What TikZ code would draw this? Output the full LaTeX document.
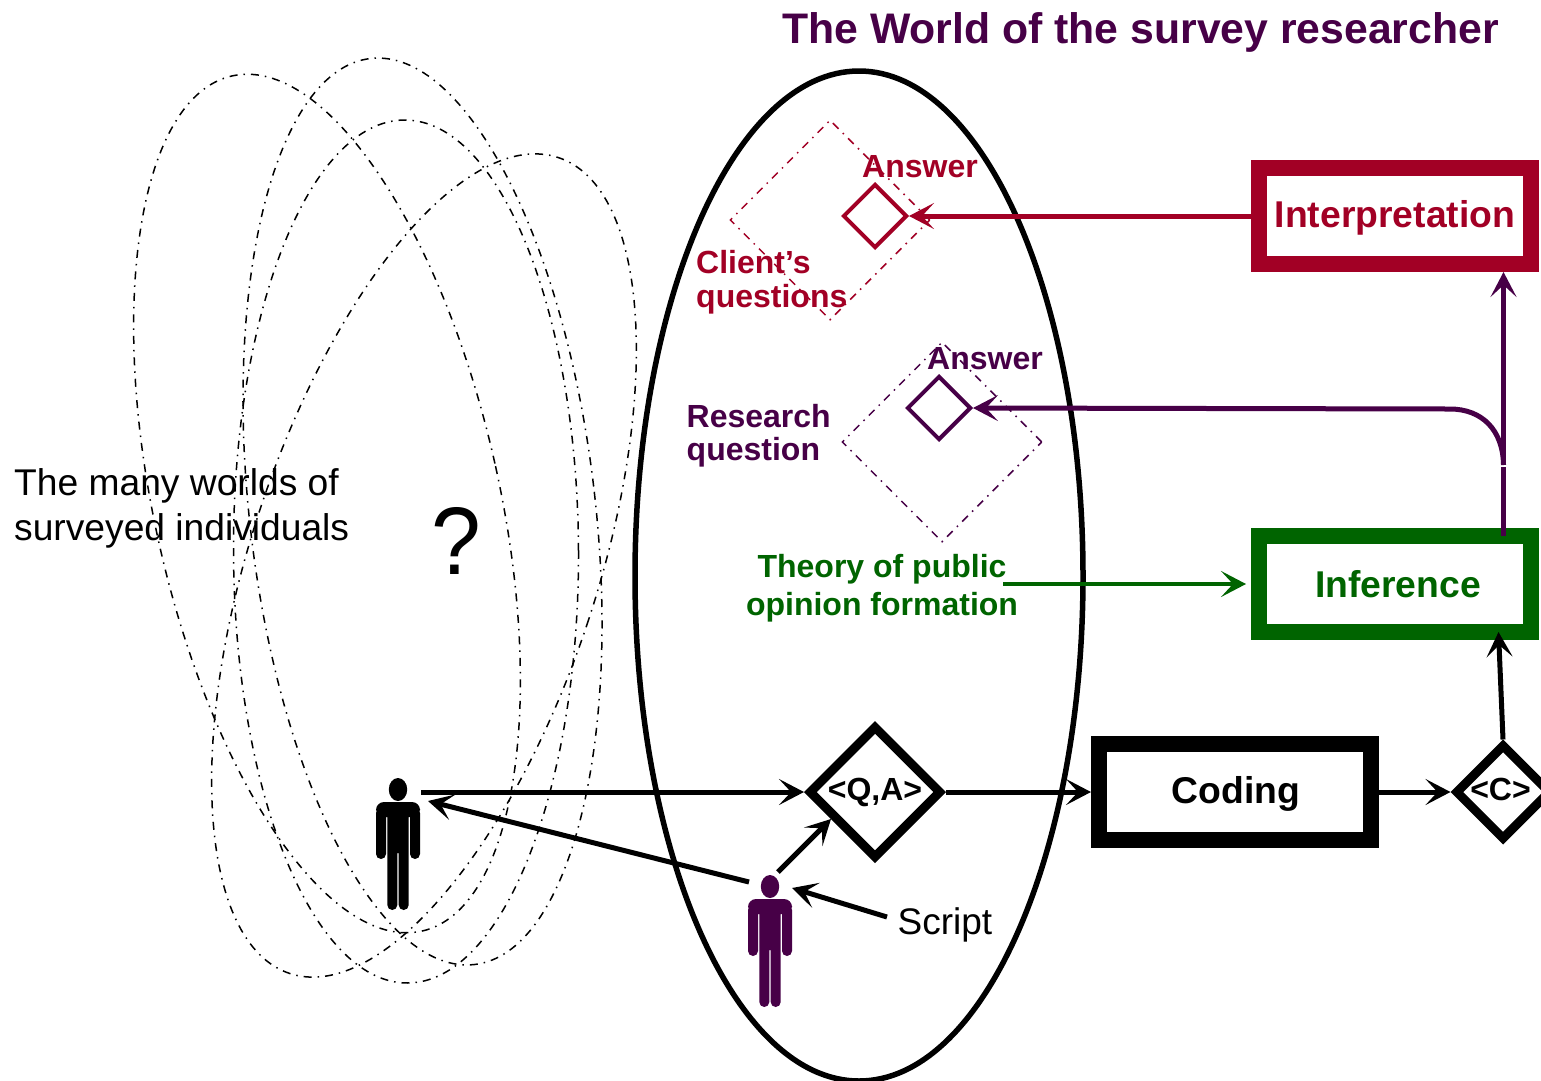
\documentclass[tikz,border=0pt]{standalone}
\usepackage{fontspec}
\setmainfont{Liberation Sans}
\usetikzlibrary{shapes.geometric,arrows.meta,calc}
\definecolor{plum}{HTML}{470047}
\definecolor{crim}{HTML}{A20025}
\definecolor{leaf}{HTML}{006400}
\tikzset{
  worldline/.style={line width=1.5pt,dash pattern=on 8pt off 6pt on 1.5pt off 6pt},
  conn/.style={line width=5pt,-{Stealth[length=25pt,width=26pt,inset=12pt]}},
  plainline/.style={line width=5pt},
  framebox/.style={rectangle,draw,line width=16pt,minimum width=272pt,minimum height=96pt,inner sep=0pt,font=\fontsize{37.3}{40}\bfseries\selectfont},
  bigdiam/.style={diamond,draw,aspect=1,line width=9pt,inner sep=0pt,font=\fontsize{32}{34}\bfseries\selectfont},
  smalldiam/.style={diamond,draw,aspect=1,line width=4pt,inner sep=0pt,minimum width=64pt,minimum height=64pt},
  clouddiam/.style={diamond,draw,aspect=1,line width=1.5pt,inner sep=0pt,minimum width=200pt,minimum height=200pt,dash pattern=on 8pt off 6pt on 1.5pt off 6pt},
  lab/.style={inner sep=0pt,font=\fontsize{32}{33}\bfseries\selectfont},
  plain/.style={inner sep=0pt,font=\fontsize{37.2}{45}\selectfont},
  person/.pic={
    \fill[pic actions] (0,11.5) ellipse [x radius=9.2,y radius=11.5]
      [rounded corners=8pt] (-22,24) rectangle (22,39)
      [rounded corners=5pt] (-22,30) rectangle (-12,81)
      (12,30) rectangle (22,81)
      (-10.7,70) rectangle (-0.7,132)
      (0.7,70) rectangle (10.7,132)
      [sharp corners] (-10.7,30) rectangle (10.7,75);
  }
}
\begin{document}
\begin{tikzpicture}[x=1pt,y=-1pt]
\useasboundingbox (0,0) rectangle (1541,1080);
\clip (0,0) rectangle (1541,1080);
\fill[white] (0,0) rectangle (1541,1080);

% many worlds
\draw[worldline,rotate around={12.5:(327,503.5)}] (327,503.5) ellipse [x radius=172.6,y radius=438];
\draw[worldline,rotate around={6.55:(422.5,511.5)}] (422.5,511.5) ellipse [x radius=172.9,y radius=456];
\draw[worldline,rotate around={0.2:(406,551.5)}] (406,551.5) ellipse [x radius=172.5,y radius=431.5];
\draw[worldline,rotate around={-18.2:(424,565.5)}] (424,565.5) ellipse [x radius=173.3,y radius=429.5];

% researcher's world
\draw[line width=5.5pt] (859,576) ellipse [x radius=224,y radius=505];

\node[inner sep=0pt,anchor=base west,text=plum,font=\fontsize{42.75}{46}\bfseries\selectfont] (title) at (782,43) {The World of the survey researcher};
\node[plain,anchor=base west,align=left] (many) at (14,540) {The many worlds of\\surveyed individuals};
\node[inner sep=0pt,anchor=base,font=\fontsize{96}{100}\selectfont] (quest) at (456.5,574) {\scalebox{0.93}[1]{?}};

% diamonds
\node[clouddiam,draw=crim] (clientD) at (830,220) {};
\node[smalldiam,draw=crim] (ansR) at (875,216) {};
\node[lab,anchor=base west,text=crim] (ansRt) at (862,177) {Answer};
\node[lab,anchor=base west,align=left,text=crim,font=\fontsize{32}{34}\bfseries\selectfont] (clientT) at (696,307) {Client’s\\questions};

\node[clouddiam,draw=plum] (resD) at (942,442) {};
\node[smalldiam,draw=plum] (ansP) at (939,408) {};
\node[lab,anchor=base west,text=plum] (ansPt) at (927,369) {Answer};
\node[lab,anchor=base west,align=left,text=plum] (resT) at (686.5,460.5) {Research\\question};

\node[lab,anchor=base,align=center,text=leaf] (theory) at (882,615) {Theory of public\\[4.5pt]opinion formation};

% boxes
\node[framebox,draw=crim,text=crim,text height=27pt,text depth=5pt] (interp) at (1395,216) {Interpretation};
\node[framebox,draw=leaf,text=leaf,text height=28pt,text depth=2pt] (infer) at (1395,584) {\hspace*{6pt}Inference};
\node[framebox,draw=black,text height=27pt,text depth=5pt] (coding) at (1235,792) {\hspace*{2pt}Coding};

\node[bigdiam,minimum width=133pt,minimum height=133pt,text height=23pt,text depth=5.6pt] (qa) at (875,792) {<Q,A>};
\node[bigdiam,minimum width=96pt,minimum height=96pt,text height=23pt,text depth=5.6pt] (cc) at (1503,792) {<C>\hspace*{5pt}};

% people
\pic[fill=black] (subject) at (398,778) {person};
\pic[fill=plum] (interviewer) at (770,875) {person};
\node[inner sep=0pt,anchor=base west,font=\fontsize{37}{40}\selectfont] (script) at (897.5,934) {Script};

% connector end points
\coordinate (subjA) at (421,792);
\coordinate (subjB) at (428,801);
\coordinate (intA) at (749,882);
\coordinate (intB) at (778,872);
\coordinate (intC) at (792,888);
\coordinate (qaIn) at (831,819);
\coordinate (scriptTail) at (887,917);
\coordinate (theoryTail) at (1003,584);
\coordinate (junction) at (1503.5,465);

% connectors
\draw[conn,crim] (interp.west) -- (ansR.east);
\draw[conn,plum] (junction) .. controls (1503,430) and (1482,409) .. (1450,409) -- (ansP.east);
\draw[conn,plum] (junction) -- (1503.5,272);
\draw[plainline,plum] (1503.5,536) -- (1503.5,467);
\draw[conn,leaf,line width=4pt] (theoryTail) -- (1246,584);
\draw[conn] (subjA) -- (qa.west);
\draw[conn] (intA) -- (subjB);
\draw[conn] (intB) -- (qaIn);
\draw[conn] (scriptTail) -- (intC);
\draw[conn] (qa.east) -- (coding.west);
\draw[conn] (coding.east) -- (cc.west);
\draw[conn] (cc.north) -- (1498.5,632);
\end{tikzpicture}
\end{document}
